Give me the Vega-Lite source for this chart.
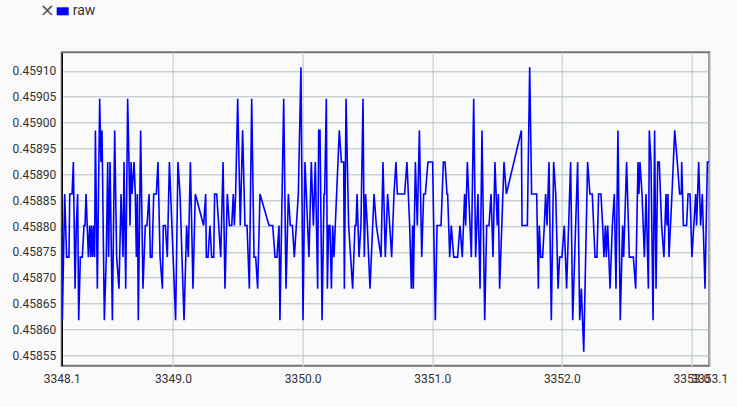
{
  "$schema": "https://vega.github.io/schema/vega-lite/v6.json",
  "width": 647.6,
  "height": 313.4,
  "autosize": "none",
  "padding": {"left": 61.7, "top": 52.3, "right": 27.7, "bottom": 41.3},
  "background": "#fafafa",
  "config": {
    "font": "Roboto",
    "view": {"stroke": "#737373", "strokeWidth": 2, "fill": "#fafafa"}
  },
  "data": {"values": [
    {"t":3348.141,"v":0.458801},{"t":3348.146,"v":0.458618},{"t":3348.164,"v":0.458862},{"t":3348.179,"v":0.45874},{"t":3348.197,"v":0.45874},{"t":3348.203,"v":0.458862},{"t":3348.221,"v":0.458862},{"t":3348.231,"v":0.458924},{"t":3348.244,"v":0.458679},{"t":3348.254,"v":0.458801},{"t":3348.264,"v":0.458862},{"t":3348.272,"v":0.458618},{"t":3348.285,"v":0.45874},{"t":3348.300,"v":0.45874},{"t":3348.313,"v":0.458801},{"t":3348.321,"v":0.458801},{"t":3348.329,"v":0.458862},{"t":3348.347,"v":0.45874},{"t":3348.357,"v":0.458801},{"t":3348.365,"v":0.45874},{"t":3348.372,"v":0.458801},{"t":3348.380,"v":0.45874},{"t":3348.388,"v":0.458801},{"t":3348.395,"v":0.45874},{"t":3348.401,"v":0.458985},{"t":3348.416,"v":0.458679},{"t":3348.434,"v":0.459046},{"t":3348.444,"v":0.458924},{"t":3348.452,"v":0.458985},{"t":3348.470,"v":0.458618},{"t":3348.485,"v":0.45874},{"t":3348.496,"v":0.458924},{"t":3348.503,"v":0.45874},{"t":3348.514,"v":0.458924},{"t":3348.532,"v":0.458618},{"t":3348.550,"v":0.458985},{"t":3348.565,"v":0.45874},{"t":3348.583,"v":0.458679},{"t":3348.599,"v":0.458862},{"t":3348.614,"v":0.45874},{"t":3348.622,"v":0.458924},{"t":3348.635,"v":0.458679},{"t":3348.650,"v":0.459046},{"t":3348.660,"v":0.458924},{"t":3348.668,"v":0.458801},{"t":3348.676,"v":0.458924},{"t":3348.684,"v":0.458862},{"t":3348.699,"v":0.458924},{"t":3348.709,"v":0.458862},{"t":3348.717,"v":0.45874},{"t":3348.725,"v":0.458862},{"t":3348.732,"v":0.458618},{"t":3348.750,"v":0.458985},{"t":3348.768,"v":0.458679},{"t":3348.786,"v":0.458801},{"t":3348.799,"v":0.458801},{"t":3348.815,"v":0.458862},{"t":3348.825,"v":0.45874},{"t":3348.838,"v":0.45874},{"t":3348.851,"v":0.458862},{"t":3348.871,"v":0.458862},{"t":3348.884,"v":0.458924},{"t":3348.900,"v":0.45874},{"t":3348.918,"v":0.458679},{"t":3348.925,"v":0.458801},{"t":3348.941,"v":0.458801},{"t":3348.956,"v":0.45874},{"t":3348.972,"v":0.458924},{"t":3349.020,"v":0.458618},{"t":3349.038,"v":0.458924},{"t":3349.054,"v":0.458862},{"t":3349.069,"v":0.45874},{"t":3349.085,"v":0.458618},{"t":3349.105,"v":0.458801},{"t":3349.118,"v":0.45874},{"t":3349.134,"v":0.458924},{"t":3349.154,"v":0.458679},{"t":3349.172,"v":0.458862},{"t":3349.236,"v":0.458801},{"t":3349.252,"v":0.458862},{"t":3349.257,"v":0.45874},{"t":3349.270,"v":0.45874},{"t":3349.285,"v":0.458801},{"t":3349.298,"v":0.45874},{"t":3349.314,"v":0.45874},{"t":3349.321,"v":0.458862},{"t":3349.337,"v":0.458862},{"t":3349.368,"v":0.45874},{"t":3349.386,"v":0.458924},{"t":3349.401,"v":0.458679},{"t":3349.419,"v":0.458862},{"t":3349.435,"v":0.458801},{"t":3349.453,"v":0.458801},{"t":3349.465,"v":0.458862},{"t":3349.473,"v":0.458801},{"t":3349.483,"v":0.458862},{"t":3349.499,"v":0.459046},{"t":3349.519,"v":0.458801},{"t":3349.537,"v":0.458985},{"t":3349.555,"v":0.458801},{"t":3349.571,"v":0.458801},{"t":3349.589,"v":0.458679},{"t":3349.607,"v":0.459046},{"t":3349.625,"v":0.45874},{"t":3349.638,"v":0.45874},{"t":3349.653,"v":0.458679},{"t":3349.671,"v":0.458862},{"t":3349.741,"v":0.458801},{"t":3349.769,"v":0.458801},{"t":3349.787,"v":0.45874},{"t":3349.802,"v":0.45874},{"t":3349.818,"v":0.458801},{"t":3349.825,"v":0.458618},{"t":3349.854,"v":0.459046},{"t":3349.872,"v":0.458679},{"t":3349.890,"v":0.458862},{"t":3349.905,"v":0.458801},{"t":3349.921,"v":0.458801},{"t":3349.936,"v":0.45874},{"t":3349.967,"v":0.458862},{"t":3349.987,"v":0.459107},{"t":3350.003,"v":0.458618},{"t":3350.018,"v":0.458924},{"t":3350.049,"v":0.45874},{"t":3350.067,"v":0.458924},{"t":3350.083,"v":0.458801},{"t":3350.098,"v":0.458924},{"t":3350.116,"v":0.458679},{"t":3350.124,"v":0.458985},{"t":3350.134,"v":0.458985},{"t":3350.150,"v":0.458618},{"t":3350.165,"v":0.458862},{"t":3350.170,"v":0.458862},{"t":3350.183,"v":0.459046},{"t":3350.191,"v":0.458679},{"t":3350.201,"v":0.458801},{"t":3350.211,"v":0.458801},{"t":3350.222,"v":0.458679},{"t":3350.232,"v":0.458801},{"t":3350.242,"v":0.45874},{"t":3350.252,"v":0.458801},{"t":3350.283,"v":0.458985},{"t":3350.299,"v":0.458924},{"t":3350.317,"v":0.458924},{"t":3350.322,"v":0.458679},{"t":3350.335,"v":0.459046},{"t":3350.355,"v":0.458801},{"t":3350.386,"v":0.458679},{"t":3350.404,"v":0.458801},{"t":3350.412,"v":0.458801},{"t":3350.420,"v":0.458862},{"t":3350.435,"v":0.45874},{"t":3350.450,"v":0.458801},{"t":3350.466,"v":0.459046},{"t":3350.476,"v":0.45874},{"t":3350.486,"v":0.458862},{"t":3350.499,"v":0.458801},{"t":3350.520,"v":0.458679},{"t":3350.551,"v":0.458862},{"t":3350.569,"v":0.458801},{"t":3350.605,"v":0.45874},{"t":3350.620,"v":0.458924},{"t":3350.638,"v":0.45874},{"t":3350.656,"v":0.458862},{"t":3350.672,"v":0.458801},{"t":3350.687,"v":0.45874},{"t":3350.705,"v":0.458862},{"t":3350.720,"v":0.458924},{"t":3350.731,"v":0.458862},{"t":3350.787,"v":0.458862},{"t":3350.805,"v":0.458924},{"t":3350.826,"v":0.458801},{"t":3350.839,"v":0.458679},{"t":3350.849,"v":0.458801},{"t":3350.854,"v":0.458679},{"t":3350.870,"v":0.458924},{"t":3350.885,"v":0.458801},{"t":3350.901,"v":0.458985},{"t":3350.919,"v":0.45874},{"t":3350.934,"v":0.458862},{"t":3350.947,"v":0.458862},{"t":3350.967,"v":0.458924},{"t":3351.003,"v":0.458924},{"t":3351.024,"v":0.458618},{"t":3351.037,"v":0.458801},{"t":3351.068,"v":0.458801},{"t":3351.086,"v":0.458924},{"t":3351.099,"v":0.458924},{"t":3351.114,"v":0.458862},{"t":3351.119,"v":0.458862},{"t":3351.135,"v":0.45874},{"t":3351.147,"v":0.458801},{"t":3351.166,"v":0.45874},{"t":3351.196,"v":0.45874},{"t":3351.214,"v":0.458801},{"t":3351.232,"v":0.45874},{"t":3351.250,"v":0.458862},{"t":3351.258,"v":0.458801},{"t":3351.271,"v":0.458924},{"t":3351.302,"v":0.45874},{"t":3351.320,"v":0.459046},{"t":3351.335,"v":0.45874},{"t":3351.353,"v":0.458862},{"t":3351.369,"v":0.458679},{"t":3351.384,"v":0.458985},{"t":3351.405,"v":0.458618},{"t":3351.420,"v":0.458801},{"t":3351.438,"v":0.458801},{"t":3351.454,"v":0.458862},{"t":3351.469,"v":0.45874},{"t":3351.484,"v":0.458924},{"t":3351.502,"v":0.458801},{"t":3351.510,"v":0.458862},{"t":3351.520,"v":0.458679},{"t":3351.554,"v":0.458924},{"t":3351.572,"v":0.458862},{"t":3351.688,"v":0.458985},{"t":3351.693,"v":0.458801},{"t":3351.734,"v":0.458801},{"t":3351.752,"v":0.459107},{"t":3351.767,"v":0.458862},{"t":3351.806,"v":0.458862},{"t":3351.819,"v":0.458679},{"t":3351.826,"v":0.458801},{"t":3351.837,"v":0.45874},{"t":3351.852,"v":0.45874},{"t":3351.865,"v":0.458801},{"t":3351.875,"v":0.458862},{"t":3351.886,"v":0.458801},{"t":3351.901,"v":0.458924},{"t":3351.919,"v":0.458618},{"t":3351.937,"v":0.458924},{"t":3351.953,"v":0.458862},{"t":3351.971,"v":0.458679},{"t":3351.983,"v":0.45874},{"t":3352.001,"v":0.45874},{"t":3352.019,"v":0.458801},{"t":3352.037,"v":0.458679},{"t":3352.068,"v":0.458924},{"t":3352.084,"v":0.458618},{"t":3352.122,"v":0.458924},{"t":3352.138,"v":0.458618},{"t":3352.151,"v":0.458679},{"t":3352.169,"v":0.458557},{"t":3352.199,"v":0.458924},{"t":3352.217,"v":0.458862},{"t":3352.235,"v":0.458862},{"t":3352.256,"v":0.45874},{"t":3352.271,"v":0.45874},{"t":3352.284,"v":0.458862},{"t":3352.302,"v":0.458862},{"t":3352.315,"v":0.458801},{"t":3352.325,"v":0.45874},{"t":3352.336,"v":0.458801},{"t":3352.343,"v":0.45874},{"t":3352.354,"v":0.458801},{"t":3352.372,"v":0.458679},{"t":3352.390,"v":0.458801},{"t":3352.405,"v":0.458862},{"t":3352.418,"v":0.458679},{"t":3352.433,"v":0.458985},{"t":3352.451,"v":0.458618},{"t":3352.469,"v":0.458801},{"t":3352.477,"v":0.45874},{"t":3352.500,"v":0.458924},{"t":3352.521,"v":0.45874},{"t":3352.552,"v":0.45874},{"t":3352.570,"v":0.458679},{"t":3352.588,"v":0.458924},{"t":3352.595,"v":0.458862},{"t":3352.603,"v":0.458924},{"t":3352.619,"v":0.458862},{"t":3352.637,"v":0.45874},{"t":3352.650,"v":0.458862},{"t":3352.668,"v":0.458679},{"t":3352.675,"v":0.458985},{"t":3352.688,"v":0.458924},{"t":3352.704,"v":0.458618},{"t":3352.716,"v":0.458985},{"t":3352.727,"v":0.458679},{"t":3352.740,"v":0.458924},{"t":3352.752,"v":0.458924},{"t":3352.770,"v":0.458801},{"t":3352.788,"v":0.45874},{"t":3352.804,"v":0.458862},{"t":3352.812,"v":0.458801},{"t":3352.819,"v":0.458862},{"t":3352.827,"v":0.45874},{"t":3352.850,"v":0.458862},{"t":3352.871,"v":0.458985},{"t":3352.891,"v":0.458924},{"t":3352.909,"v":0.458862},{"t":3352.922,"v":0.458862},{"t":3352.925,"v":0.458924},{"t":3352.938,"v":0.458801},{"t":3352.963,"v":0.458801},{"t":3352.974,"v":0.458862},{"t":3352.989,"v":0.458862},{"t":3353.004,"v":0.45874},{"t":3353.033,"v":0.458862},{"t":3353.040,"v":0.458801},{"t":3353.056,"v":0.458924},{"t":3353.071,"v":0.458801},{"t":3353.084,"v":0.458862},{"t":3353.105,"v":0.458679},{"t":3353.123,"v":0.458924},{"t":3353.138,"v":0.458924}
  ]},
  "mark": {"type": "line", "strokeWidth": 1.6, "clip": true},
  "encoding": {
    "x": {
      "field": "t", "type": "quantitative",
      "scale": {"domain": [3348.141, 3353.138], "nice": false, "zero": false},
      "axis": {
        "title": null,
        "values": [3348.141, 3349, 3350, 3351, 3352, 3353, 3353.138],
        "format": ".1f",
        "labelOverlap": false, "labelBound": false, "labelFlush": false,
        "ticks": false, "domain": false,
        "grid": true, "gridColor": "#cfd8dc", "gridWidth": 1.5,
        "labelFontSize": 12, "labelColor": "#333333", "labelPadding": 8
      }
    },
    "y": {
      "field": "v", "type": "quantitative",
      "scale": {"domain": [0.45853, 0.459136], "nice": false, "zero": false},
      "axis": {
        "title": null,
        "values": [0.45855, 0.4586, 0.45865, 0.4587, 0.45875, 0.4588, 0.45885, 0.4589, 0.45895, 0.459, 0.45905, 0.4591],
        "format": ".5f",
        "ticks": false,
        "domain": true, "domainColor": "#000000", "domainWidth": 1.5,
        "grid": true, "gridColor": "#b0bec5", "gridWidth": 1,
        "labelFontSize": 12, "labelColor": "#333333", "labelPadding": 6
      }
    },
    "color": {
      "datum": "raw", "type": "nominal",
      "scale": {"range": ["#0000ff"]},
      "legend": {
        "title": "×", "titleOrient": "left", "titleColor": "#555555", "titleFontSize": 18, "titleFontWeight": "normal", "titlePadding": 0, "titleFont": "DejaVu Sans",
        "orient": "none", "legendX": -22, "legendY": -48,
        "symbolType": "M-1,-0.67H1V0.67H-1Z", "symbolSize": 144,
        "symbolFillColor": "#0000ff", "symbolStrokeColor": "#0000ff", "symbolStrokeWidth": 0,
        "labelFontSize": 14, "labelColor": "#333333", "labelOffset": 3,
        "encode": {"symbols": {"update": {"fill": {"value": "#0000ff"}, "strokeWidth": {"value": 0}}}}
      }
    }
  }
}
